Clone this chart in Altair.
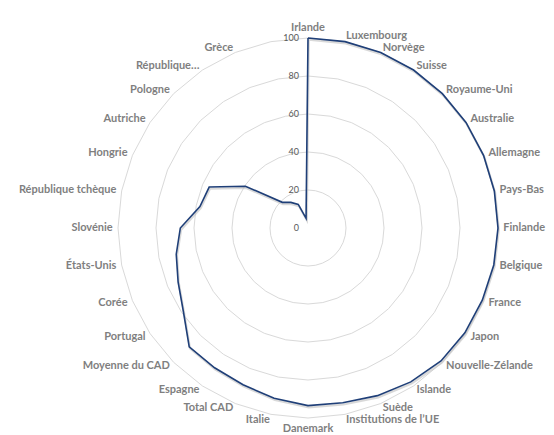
import altair as alt
import pandas as pd

labels = ["Irlande", "Luxembourg", "Norvège", "Suisse", "Royaume-Uni", "Australie",
          "Allemagne", "Pays-Bas", "Finlande", "Belgique", "France", "Japon",
          "Nouvelle-Zélande", "Islande", "Suède", "Institutions de l’UE", "Danemark",
          "Italie", "Total CAD", "Espagne", "Moyenne du CAD", "Portugal", "Corée",
          "États-Unis", "Slovénie", "République tchèque", "Hongrie", "Autriche",
          "Pologne", "République…", "Grèce", ""]
values = [100, 100, 100, 100, 100, 100, 100, 100, 100, 99.7, 99.3, 99.3, 99.0, 97.4,
          95.5, 93.8, 93.5, 91.4, 89.3, 88.5, 88.4, 78.9, 74.0, 70.7, 67.2, 58.0, 56.3,
          39.6, 19.1, 16.2, 13.4, 5.2]
grid_levels = [20, 40, 60, 80, 100]
tick_levels = [0, 20, 40, 60, 80, 100]

N = len(labels)
series = pd.DataFrame({"i": list(range(N)) + [N],
                       "label": labels + [labels[0]],
                       "value": values + [values[0]]})
lab_df = pd.DataFrame({"i": list(range(N)), "label": labels})
grid = pd.DataFrame([{"level": lv, "k": k} for lv in grid_levels for k in range(N + 1)])
ticks = pd.DataFrame({"level": tick_levels, "txt": [str(t) for t in tick_levels]})

sx = alt.Scale(domain=[-100, 100], nice=False, zero=False)
sy = alt.Scale(domain=[-100, 100], nice=False, zero=False)
ang = f"2 * PI / {N}"

grid_layer = alt.Chart(grid).transform_calculate(
    x=f"datum.level * sin(datum.k * {ang})",
    y=f"datum.level * cos(datum.k * {ang})",
).mark_line(color="#d9d9d9", strokeWidth=1).encode(
    x=alt.X("x:Q", scale=sx, axis=None),
    y=alt.Y("y:Q", scale=sy, axis=None),
    detail="level:N",
    order="k:Q",
)

shadow = alt.Chart(series).transform_calculate(
    x=f"datum.value * sin(datum.i * {ang}) + 0.4",
    y=f"datum.value * cos(datum.i * {ang}) - 0.9",
).mark_line(color="#bfbfbf", strokeWidth=2.2, opacity=0.6).encode(
    x=alt.X("x:Q", scale=sx, axis=None),
    y=alt.Y("y:Q", scale=sy, axis=None),
    order="i:Q",
)

line = alt.Chart(series).transform_calculate(
    x=f"datum.value * sin(datum.i * {ang})",
    y=f"datum.value * cos(datum.i * {ang})",
).mark_line(color="#1f3f78", strokeWidth=1.6).encode(
    x=alt.X("x:Q", scale=sx, axis=None),
    y=alt.Y("y:Q", scale=sy, axis=None),
    order="i:Q",
)

tick_layer = alt.Chart(ticks).transform_calculate(x="0").mark_text(
    align="right", baseline="middle", dx=-9, fontSize=9, font="Lato", color="#595959"
).encode(
    x=alt.X("x:Q", scale=sx, axis=None),
    y=alt.Y("level:Q", scale=sy, axis=None),
    text="txt:N",
)

R = 102.8
txt_kw = dict(font="Lato", fontSize=11, fontWeight="bold", color="#7f7f7f")


def lab_layer(flt, align, baseline):
    return alt.Chart(lab_df).transform_filter(flt).transform_calculate(
        x=f"{R} * sin(datum.i * {ang})",
        y=f"{R} * cos(datum.i * {ang})",
    ).mark_text(align=align, baseline=baseline, **txt_kw).encode(
        x=alt.X("x:Q", scale=sx, axis=None),
        y=alt.Y("y:Q", scale=sy, axis=None),
        text="label:N",
    )


right_lab = lab_layer(f"datum.i > 0 && datum.i < {N // 2}", "left", "middle")
left_lab = lab_layer(f"datum.i > {N // 2}", "right", "middle")
top_lab = lab_layer("datum.i == 0", "center", "bottom")
bot_lab = lab_layer(f"datum.i == {N // 2}", "center", "top")

chart = alt.layer(grid_layer, shadow, line, tick_layer, right_lab, left_lab, top_lab, bot_lab).properties(
    width=380, height=380,
    autosize=alt.AutoSizeParams(type="none"),
    padding={"left": 110, "top": 30, "right": 48, "bottom": 17},
    background="white",
).configure_view(stroke=None)

chart.save("out.html", embed_options={"renderer": "svg", "actions": False})
